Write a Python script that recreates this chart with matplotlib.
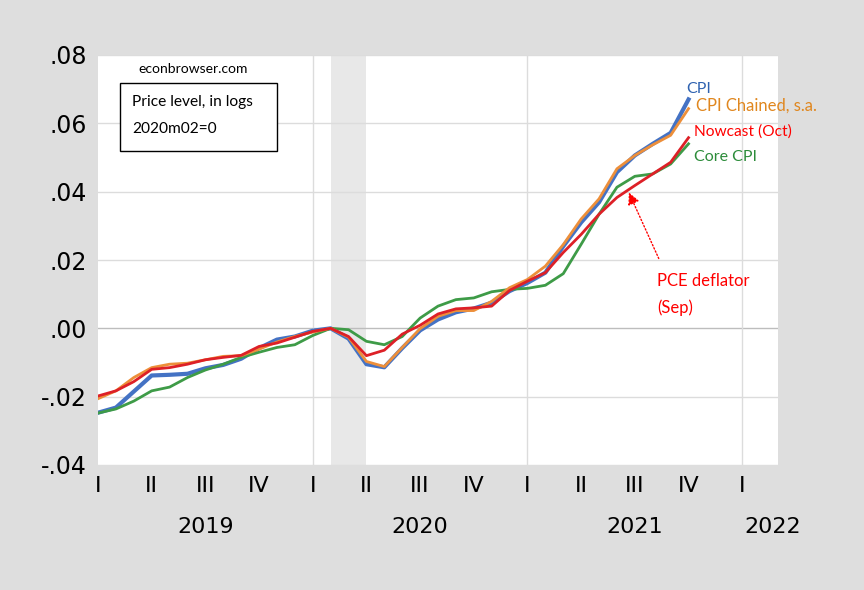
import matplotlib.pyplot as plt
from matplotlib.patches import Rectangle

# months since 2019m01 (0 = Jan 2019)
months = list(range(34))

cpi = [-0.0247, -0.0232, -0.0185, -0.0138, -0.0136, -0.0133, -0.0117, -0.0107,
       -0.0089, -0.0058, -0.0033, -0.0024, -0.0007, 0.0, -0.0030, -0.0105,
       -0.0114, -0.0058, -0.0006, 0.0026, 0.0047, 0.0058, 0.0075, 0.0109,
       0.0133, 0.0163, 0.0240, 0.0310, 0.0369, 0.0457, 0.0506, 0.0540,
       0.0572, 0.0670]
cpi_chained = [-0.0206, -0.0183, -0.0144, -0.0115, -0.0105, -0.0102, -0.0092, -0.0082,
               -0.0080, -0.0061, -0.0040, -0.0024, -0.0011, 0.0, -0.0026, -0.0097,
               -0.0112, -0.0056, -0.0001, 0.0035, 0.0052, 0.0052, 0.0079, 0.0119,
               0.0143, 0.0182, 0.0245, 0.0320, 0.0379, 0.0467, 0.0506, 0.0537,
               0.0565, 0.0643]
core_cpi = [-0.0248, -0.0236, -0.0213, -0.0183, -0.0172, -0.0144, -0.0122, -0.0105,
            -0.0085, -0.0070, -0.0056, -0.0048, -0.0021, 0.0, -0.0004, -0.0038,
            -0.0048, -0.0024, 0.0030, 0.0065, 0.0084, 0.0089, 0.0107, 0.0114,
            0.0117, 0.0126, 0.0160, 0.0246, 0.0334, 0.0413, 0.0445, 0.0452,
            0.0481, 0.0540]
# PCE deflator through Sep 2021, nowcast for Oct 2021
pce = [-0.0198, -0.0183, -0.0156, -0.0120, -0.0115, -0.0105, -0.0092, -0.0085,
       -0.0079, -0.0053, -0.0043, -0.0026, -0.0009, 0.0, -0.0024, -0.0080,
       -0.0064, -0.0017, 0.0009, 0.0042, 0.0057, 0.0060, 0.0065, 0.0111,
       0.0138, 0.0163, 0.0222, 0.0275, 0.0334, 0.0383, 0.0418, 0.0452,
       0.0486, 0.0558]

quarter_pos = list(range(0, 37, 3))
quarter_labels = ['I', 'II', 'III', 'IV'] * 3 + ['I']
year_pos = [6, 18, 30, 37.7]
year_labels = ['2019', '2020', '2021', '2022']
yticks = [-0.04, -0.02, 0.0, 0.02, 0.04, 0.06, 0.08]
ytick_labels = ['-.04', '-.02', '.00', '.02', '.04', '.06', '.08']
recession = (13, 15)

bg = '#DEDEDE'
c_blue = '#4472C4'
c_orange = '#ED8F3A'
c_green = '#3E9B47'
c_red = '#DD2027'
narrow = ['Liberation Sans Narrow', 'DejaVu Sans']
lab = ['Lato', 'DejaVu Sans']

fig = plt.figure(figsize=(8.64, 5.90), dpi=100, facecolor=bg)
ax = fig.add_axes([98 / 864, 1 - 465 / 590, 680 / 864, 410 / 590])
ax.set_facecolor('white')
for s in ax.spines.values():
    s.set_visible(False)

ax.axvspan(recession[0], recession[1], color='#E8E8E8', lw=0, zorder=0)
for yv in yticks:
    ax.axhline(yv, color='#DCDCDC' if yv != 0 else '#BDBDBD', lw=1, zorder=1)
for xv in [12, 24, 36]:
    ax.axvline(xv, color='#DCDCDC', lw=1, zorder=1)

ax.plot(months, cpi, color=c_blue, lw=3, zorder=3)
ax.plot(months, cpi_chained, color=c_orange, lw=2, zorder=4)
ax.plot(months, core_cpi, color=c_green, lw=2, zorder=3)
ax.plot(months, pce, color=c_red, lw=2, zorder=5)

ax.set_xlim(0, 38)
ax.set_ylim(-0.04, 0.08)
ax.set_yticks(yticks)
ax.set_yticklabels(ytick_labels, family=narrow, fontsize=17)
ax.set_xticks(quarter_pos)
ax.set_xticklabels(quarter_labels, family=narrow, fontsize=16)
ax.tick_params(length=0, pad=8)
ax.tick_params(axis='x', pad=8)
for xp, yl in zip(year_pos, year_labels):
    ax.text(xp, -0.0582, yl, ha='center', va='center', family=narrow,
            fontsize=16, clip_on=False)

# series labels
ax.text(32.9, 0.0700, 'CPI', color='#2F62B0', family=lab, fontsize=11.5, va='center')
ax.text(33.4, 0.0653, 'CPI Chained, s.a.', color='#E0871F', family=lab, fontsize=12, va='center')
ax.text(33.3, 0.0576, 'Nowcast (Oct)', color='#FF0000', family=lab, fontsize=11.2, va='center')
ax.text(33.3, 0.0500, 'Core CPI', color='#2C8C3A', family=lab, fontsize=11.5, va='center')
ax.text(31.25, 0.0138, 'PCE deflator', color='#FF0000', family=lab, fontsize=12, va='center')
ax.text(31.25, 0.0059, '(Sep)', color='#FF0000', family=lab, fontsize=12, va='center')
ax.annotate('', xy=(29.6, 0.0405), xytext=(31.4, 0.0197),
            arrowprops=dict(arrowstyle='-|>,head_length=0.7,head_width=0.35',
                            color='#FF0000', lw=1, linestyle=(0, (1, 1.5))),
            zorder=6)

# note box
fig.text(193 / 864, 1 - 69 / 590, 'econbrowser.com', ha='center', va='center',
         family=lab, fontsize=10)
fig.patches.append(Rectangle((120 / 864, 1 - 151 / 590), 157 / 864, 68 / 590,
                             transform=fig.transFigure, fill=True, facecolor='white',
                             edgecolor='black', lw=1, zorder=5))
fig.text(132 / 864, 1 - 102 / 590, 'Price level, in logs', ha='left', va='center',
         family=lab, fontsize=11.2, zorder=6)
fig.text(132 / 864, 1 - 129 / 590, '2020m02=0', ha='left', va='center',
         family=lab, fontsize=11.2, zorder=6)

fig.savefig('out.png', dpi=100, facecolor=bg)
